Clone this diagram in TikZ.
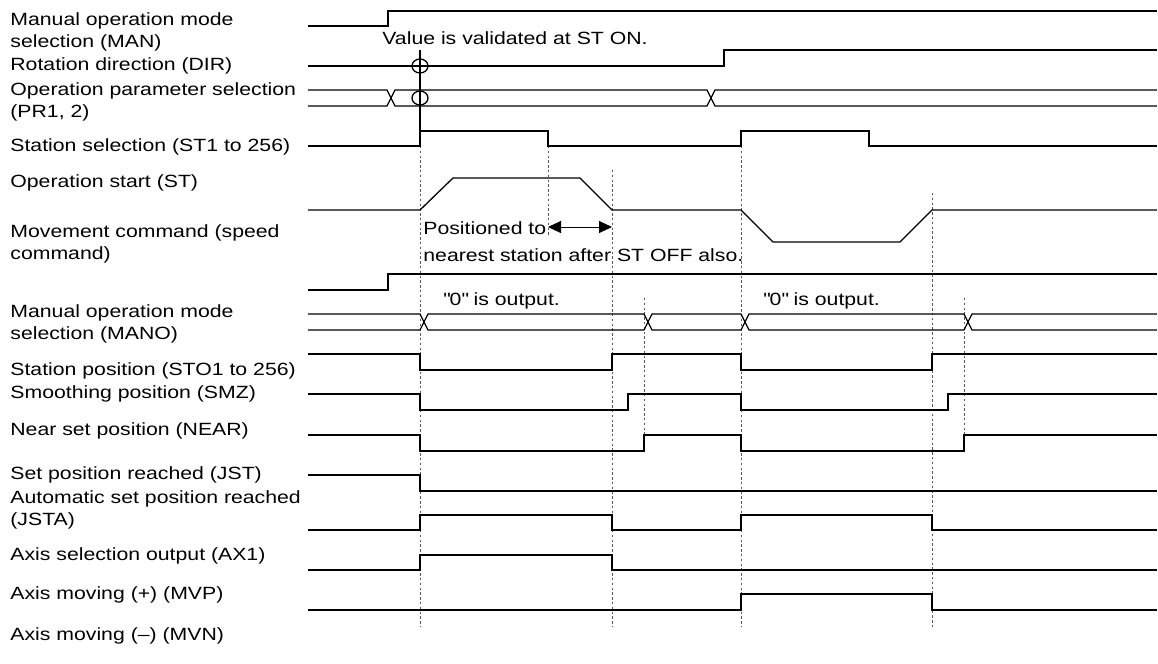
\documentclass[tikz,border=0pt]{standalone}
\usepackage{fontspec}
\setmainfont[FakeStretch=1.2]{Liberation Sans}
\usepackage{tikz}
\usetikzlibrary{arrows.meta}
\tikzset{
  sig/.style={draw=black, line width=0.65pt, line join=miter},
  guide/.style={draw=black!65, line width=0.4pt, dash pattern=on 1.2pt off 1.2pt},
  lbl/.style={anchor=west, inner sep=0pt, align=left, font=\fontsize{8.85}{11.25}\selectfont},
  note/.style={anchor=west, inner sep=0pt, align=left, font=\fontsize{8.85}{13.5}\selectfont},
  span/.style={{Triangle[length=6.5pt, width=6pt]}-{Triangle[length=6.5pt, width=6pt]}, line width=0.5pt}
}

\begin{document}
\begin{tikzpicture}[x=0.5pt, y=-0.5pt]
  \useasboundingbox (0,0) rectangle (1158,664);
  % signal names
  \node[lbl] (lMAN) at (10,32) {Manual operation mode\\selection (MAN)};
  \node[lbl] (lDIR) at (10,66) {Rotation direction (DIR)};
  \node[lbl] (lPR) at (10,102) {Operation parameter selection\\(PR1, 2)};
  \node[lbl] (lSTn) at (10,147) {Station selection (ST1 to 256)};
  \node[lbl] (lST) at (10,183) {Operation start (ST)};
  \node[lbl] (lSPD) at (10,244) {Movement command (speed\\command)};
  \node[lbl] (lMANO) at (10,324) {Manual operation mode\\selection (MANO)};
  \node[lbl] (lSTO) at (10,371) {Station position (STO1 to 256)};
  \node[lbl] (lSMZ) at (10,394) {Smoothing position (SMZ)};
  \node[lbl] (lNEAR) at (10,431) {Near set position (NEAR)};
  \node[lbl] (lJST) at (10,475) {Set position reached (JST)};
  \node[lbl] (lJSTA) at (10,510) {Automatic set position reached\\(JSTA)};
  \node[lbl] (lAX) at (10,556) {Axis selection output (AX1)};
  \node[lbl] (lMVP) at (10,595) {Axis moving (+) (MVP)};
  \node[lbl] (lMVN) at (10,636) {Axis moving (–) (MVN)};

  % timing guides
  \draw[guide] (420,146) -- (420,627);
  \draw[guide] (548,146) -- (548,235);
  \draw[guide] (612,170) -- (612,627);
  \draw[guide] (644,298) -- (644,435);
  \draw[guide] (741,146) -- (741,627);
  \draw[guide] (932,193) -- (932,627);
  \draw[guide] (964,298) -- (964,435);

  % inputs
  \draw[sig] (308,26) -- (388,26) -- (388,11) -- (1157,11);
  \draw[sig] (308,66) -- (724,66) -- (724,50) -- (1157,50);
  \draw[sig] (308,90) -- (387,90) -- (395,106) -- (707,106) -- (715,90) -- (1157,90);
  \draw[sig] (308,106) -- (387,106) -- (395,90) -- (707,90) -- (715,106) -- (1157,106);
  \draw[sig] (308,146) -- (420,146) -- (420,131) -- (548,131) -- (548,146) -- (741,146)
    -- (741,131) -- (869,131) -- (869,146) -- (1157,146);
  \draw[sig] (420,50) -- (420,146);
  \draw[sig] (420,66) ellipse (8 and 7);
  \draw[sig] (420,98) ellipse (8 and 7);
  \draw[sig] (308,210) -- (420,210) -- (453,178) -- (580,178) -- (612,210) -- (741,210)
    -- (773,242) -- (900,242) -- (932,210) -- (1157,210);

  % outputs
  \draw[sig] (308,290) -- (388,290) -- (388,274) -- (1157,274);
  \draw[sig] (308,314) -- (420,314) -- (428,330) -- (644,330) -- (652,314) -- (741,314)
    -- (749,330) -- (964,330) -- (972,314) -- (1157,314);
  \draw[sig] (308,330) -- (420,330) -- (428,314) -- (644,314) -- (652,330) -- (741,330)
    -- (749,314) -- (964,314) -- (972,330) -- (1157,330);
  \draw[sig] (308,354) -- (420,354) -- (420,370) -- (612,370) -- (612,354) -- (741,354)
    -- (741,370) -- (932,370) -- (932,354) -- (1157,354);
  \draw[sig] (308,394) -- (420,394) -- (420,410) -- (628,410) -- (628,394) -- (741,394)
    -- (741,410) -- (948,410) -- (948,394) -- (1157,394);
  \draw[sig] (308,435) -- (420,435) -- (420,451) -- (644,451) -- (644,435) -- (741,435)
    -- (741,451) -- (964,451) -- (964,435) -- (1157,435);
  \draw[sig] (308,475) -- (420,475) -- (420,491) -- (1157,491);
  \draw[sig] (308,530) -- (420,530) -- (420,515) -- (612,515) -- (612,530) -- (741,530)
    -- (741,515) -- (932,515) -- (932,530) -- (1157,530);
  \draw[sig] (308,570) -- (420,570) -- (420,555) -- (612,555) -- (612,570) -- (1157,570);
  \draw[sig] (308,610) -- (741,610) -- (741,594) -- (932,594) -- (932,610) -- (1157,610);

  % notes
  \node[note] (valid) at (382,38) {Value is validated at ST ON.};
  \node[note] (near) at (423,242) {Positioned to\\nearest station after ST OFF also.};
  \coordinate (offL) at (548,227);
  \coordinate (offR) at (612,227);
  \draw[span] (offL) -- (offR);
  \node[note] (zero1) at (443,301) {\textquotedbl0\textquotedbl{} is output.};
  \node[note] (zero2) at (763,301) {\textquotedbl0\textquotedbl{} is output.};
\end{tikzpicture}
\end{document}
